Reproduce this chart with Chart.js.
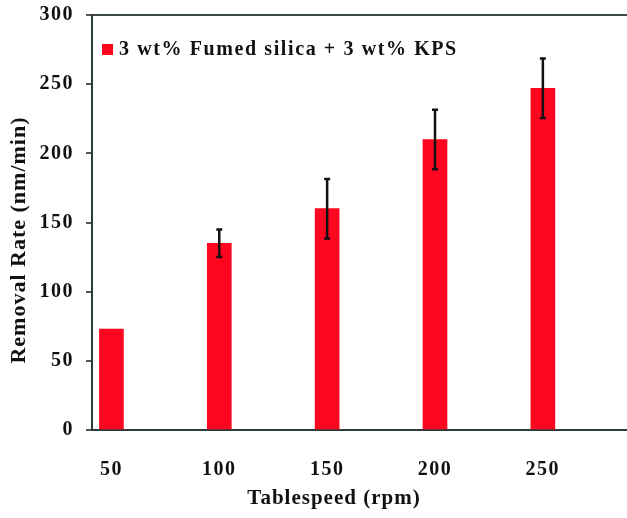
<!DOCTYPE html>
<html>
<head>
<meta charset="utf-8">
<script src="https://cdn.jsdelivr.net/npm/chart.js@4/dist/chart.umd.min.js"></script>
<style>
  html, body { margin: 0; padding: 0; background: #fff; }
  #wrap { width: 627px; height: 518px; }
</style>
</head>
<body>
<div id="wrap"><canvas id="chart"></canvas></div>
<script>
// tablespeed (rpm) and removal rate (nm/min)
const speeds = [50, 100, 150, 200, 250];
const rates = [73, 135, 160, 210, 247];
const errors = [0, 10, 21.5, 21.5, 21.5];
const yTicks = [0, 50, 100, 150, 200, 250, 300];
const seriesLabel = '3 wt% Fumed silica + 3 wt% KPS';
const xTitle = 'Tablespeed (rpm)';
const yTitle = 'Removal Rate (nm/min)';

const serif = '"Liberation Serif", "Times New Roman", serif';
const red = '#ff0620';

// the original lettering is set wide, so space the letters a bit
const spacing = {
    id: 'spacing',
    beforeDraw(chart) {
        chart.ctx.letterSpacing = '1.5px';
    }
};

// error bars, legend and axis titles drawn on top of the chart
const extras = {
    id: 'extras',
    afterDatasetsDraw(chart) {
        const ctx = chart.ctx;
        const xs = chart.scales.x;
        const ys = chart.scales.y;
        ctx.save();
        ctx.strokeStyle = '#111';
        ctx.lineWidth = 2.5;
        for (let i = 0; i < speeds.length; i++) {
            if (!errors[i]) continue;
            const x = xs.getPixelForValue(speeds[i]);
            const top = ys.getPixelForValue(rates[i] + errors[i]);
            const bot = ys.getPixelForValue(rates[i] - errors[i]);
            ctx.beginPath();
            ctx.moveTo(x, top);
            ctx.lineTo(x, bot);
            ctx.moveTo(x - 3, top);
            ctx.lineTo(x + 3, top);
            ctx.moveTo(x - 3, bot);
            ctx.lineTo(x + 3, bot);
            ctx.stroke();
        }

        // legend inside the plot
        const area = chart.chartArea;
        ctx.fillStyle = red;
        ctx.fillRect(area.left + 10, area.top + 29, 11, 11);
        ctx.fillStyle = '#111';
        ctx.letterSpacing = '1.6px';
        ctx.font = 'bold 20px ' + serif;
        ctx.textBaseline = 'middle';
        ctx.textAlign = 'left';
        ctx.fillText(seriesLabel, area.left + 27, area.top + 35);

        // axis titles
        ctx.letterSpacing = '1px';
        ctx.font = 'bold 21px ' + serif;
        ctx.textAlign = 'center';
        ctx.fillText(xTitle, 334, 499);
        ctx.font = 'bold 22px ' + serif;
        ctx.translate(19, 240);
        ctx.rotate(-Math.PI / 2);
        ctx.fillText(yTitle, 0, 0);
        ctx.restore();
    }
};

new Chart(document.getElementById('chart'), {
    type: 'bar',
    data: {
        datasets: [{
            label: seriesLabel,
            data: speeds.map((s, i) => ({ x: s, y: rates[i] })),
            backgroundColor: red,
            borderWidth: 0,
            barThickness: 24
        }]
    },
    options: {
        responsive: true,
        maintainAspectRatio: false,
        animation: false,
        layout: { padding: { top: 15, right: 0, left: 0, bottom: 0 } },
        plugins: {
            legend: { display: false },
            tooltip: { enabled: false }
        },
        scales: {
            x: {
                type: 'linear',
                offset: false,
                min: 41,
                max: 289,
                afterBuildTicks: (scale) => {
                    scale.ticks = speeds.map(v => ({ value: v }));
                },
                afterFit: (scale) => {
                    scale.height = 88;
                    scale.paddingLeft = 0;
                    scale.paddingRight = 0;
                },
                grid: { display: false },
                border: { display: true, color: '#2f3b3b', width: 2 },
                ticks: {
                    padding: 20,
                    color: '#111',
                    font: { family: serif, size: 20, weight: 'bold' }
                }
            },
            y: {
                min: 0,
                max: 300,
                afterBuildTicks: (scale) => {
                    scale.ticks = yTicks.map(v => ({ value: v }));
                },
                afterFit: (scale) => {
                    scale.width = 92;
                    scale.paddingTop = 0;
                    scale.paddingBottom = 0;
                },
                grid: {
                    drawOnChartArea: true,
                    color: (c) => (c.tick && c.tick.value === 300 ? '#3a4848' : 'rgba(0,0,0,0)'),
                    lineWidth: 2,
                    tickLength: 6,
                    tickColor: '#555',
                    tickWidth: 2
                },
                border: { display: true, color: '#2f3b3b', width: 2 },
                ticks: {
                    padding: 12,
                    color: '#111',
                    font: { family: serif, size: 20, weight: 'bold' }
                }
            }
        }
    },
    plugins: [spacing, extras]
});
</script>
</body>
</html>
